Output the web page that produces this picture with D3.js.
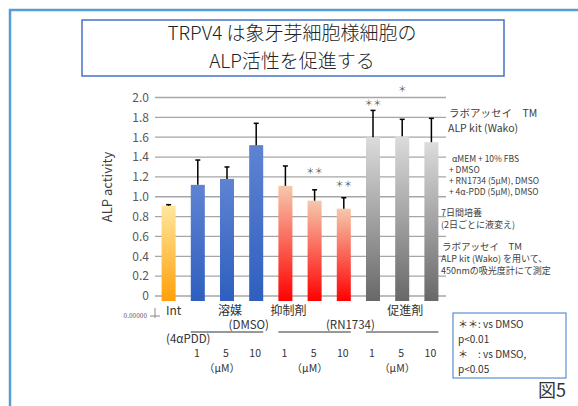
<!DOCTYPE html>
<html><head><meta charset="utf-8">
<script src="https://cdn.jsdelivr.net/npm/d3@7"></script>
<style>body{margin:0;background:#fff}svg{display:block;font-family:"Noto Sans CJK JP","Noto Sans",sans-serif}</style>
</head><body><svg id="c" width="578" height="406"></svg>
<script>
// ---- data ----
const barNames = ["Int","PDD1","PDD5","PDD10","RN1","RN5","RN10","P1","P5","P10"];
const barValues = [0.91, 1.12, 1.18, 1.52, 1.11, 0.96, 0.88, 1.60, 1.61, 1.55];
const barErrors = [0.01, 0.25, 0.12, 0.22, 0.20, 0.11, 0.11, 0.27, 0.17, 0.24];
const barGroup = ["int","dmso","dmso","dmso","rn","rn","rn","pro","pro","pro"];
const starText = ["","","","","","＊＊","＊＊","＊＊","＊",""];
const starLevel = [null,null,null,null,null,1.26,1.13,1.945,2.095,null];
const yTicks = [0,0.2,0.4,0.6,0.8,1.0,1.2,1.4,1.6,1.8,2.0];
const yTickLabels = ["0","0.2","0.4","0.6","0.8","1.0","1.2","1.4","1.6","1.8","2.0"];
const titleLines = ["TRPV4 は象牙芽細胞様細胞の","ALP活性を促進する"];
const categoryLabels = ["Int","溶媒","抑制剤","促進剤"];
const groupLabels = ["(DMSO)","(RN1734)"];
const doseLabels = ["1","5","10"];
const unitLabel = "（μM）";
const pddLabel = "(4αPDD)";
const noteLines = ["ラボアッセイ　TM","ALP kit (Wako)","αMEM + 10% FBS","+ DMSO","+ RN1734 (5μM), DMSO","+ 4α-PDD (5μM), DMSO","7日間培養","(2日ごとに液変え)","ラボアッセイ　TM","ALP kit (Wako) を用いて、","450nmの吸光度計にて測定"];
const legendLines = ["＊＊: vs DMSO","p<0.01","＊　: vs DMSO,","p<0.05"];

const svg = d3.select("#c");
svg.append("rect").attr("width",578).attr("height",406).attr("fill","#fff");

// gradients
const defs = svg.append("defs");
const grads = {int:["#FFE79E","#FFA00A"], dmso:["#5F83D2","#2E5FBF"], rn:["#F6C8AC","#FF0000"], pro:["#DCDCDC","#686868"]};
Object.entries(grads).forEach(([k,c])=>{
  const g = defs.append("linearGradient").attr("id","g-"+k).attr("x1",0).attr("y1",0).attr("x2",0).attr("y2",1);
  g.append("stop").attr("offset","0%").attr("stop-color",c[0]);
  g.append("stop").attr("offset","100%").attr("stop-color",c[1]);
});

// frame
svg.append("path").attr("d","M10,406V10H578").attr("fill","none").attr("stroke","#5B9BD5").attr("stroke-width",2.5);
// title box
svg.append("rect").attr("x",82).attr("y",20).attr("width",422).attr("height",56).attr("fill","none").attr("stroke","#4472C4").attr("stroke-width",1.5);
svg.selectAll("text.title").data(titleLines).join("text").attr("class","title")
  .attr("x",292).attr("y",(d,i)=>40+i*28).attr("text-anchor","middle")
  .attr("font-size",19).attr("font-weight",300).attr("fill","#222").text(d=>d);

// scales
const x = d3.scaleBand().domain(barNames).range([154,446]).paddingInner(0.52).paddingOuter(0.26);
const y = d3.scaleLinear().domain([0,2]).range([296,97.5]);
const baseOffset = 5;

// gridlines
svg.append("g").selectAll("line").data(yTicks).join("line")
  .attr("x1",155).attr("x2",446).attr("y1",d=>y(d)).attr("y2",d=>y(d))
  .attr("stroke","#A6A6A6").attr("stroke-width",1.3);

// y axis labels
const yAxis = d3.axisLeft(y).tickValues(yTicks).tickFormat((d,i)=>yTickLabels[i]).tickSize(0).tickPadding(0);
const ya = svg.append("g").attr("transform","translate(149,0)").call(yAxis);
ya.select(".domain").remove();
ya.selectAll("text").attr("font-size",12).attr("fill","#595959").attr("font-family","'Noto Sans CJK JP',sans-serif");

svg.append("text").attr("transform","translate(112,187) rotate(-90)").attr("text-anchor","middle")
  .attr("font-size",13).attr("fill","#404040").text("ALP activity");

// bars
svg.append("g").selectAll("rect").data(barNames).join("rect")
  .attr("x",d=>x(d)).attr("width",x.bandwidth())
  .attr("y",(d,i)=>y(barValues[i])).attr("height",(d,i)=>y(0)+baseOffset-y(barValues[i]))
  .attr("fill",(d,i)=>"url(#g-"+barGroup[i]+")");

// error bars
const eb = svg.append("g").attr("stroke","#000").attr("stroke-width",1.5);
barNames.forEach((d,i)=>{
  const cx = x(d)+x.bandwidth()/2;
  eb.append("line").attr("x1",cx).attr("x2",cx).attr("y1",y(barValues[i])).attr("y2",y(barValues[i]+barErrors[i]));
  eb.append("line").attr("x1",cx-2.5).attr("x2",cx+2.5).attr("y1",y(barValues[i]+barErrors[i])).attr("y2",y(barValues[i]+barErrors[i]));
});

// stars
svg.append("g").selectAll("text").data(barNames.filter((d,i)=>starText[i])).join("text")
  .attr("x",d=>x(d)+x.bandwidth()/2)
  .attr("y",d=>y(starLevel[barNames.indexOf(d)])+3.5)
  .attr("text-anchor","middle").attr("font-size",8.5).attr("fill","#555")
  .text(d=>starText[barNames.indexOf(d)]);

// bottom stub
svg.append("text").attr("x",147).attr("y",318).attr("text-anchor","end").attr("font-size",6.5).attr("fill","#555").text("0.00000");
svg.append("path").attr("d","M155,308V318M150,316H160").attr("stroke","#888").attr("stroke-width",1).attr("fill","none");

// category labels
const cx = i => x(barNames[i])+x.bandwidth()/2;
const catPos = [cx(0)+5, cx(2)+3, cx(4)+3, cx(8)+3];
svg.selectAll("text.cat").data(categoryLabels).join("text").attr("class","cat")
  .attr("x",(d,i)=>catPos[i]).attr("y",315).attr("text-anchor","middle")
  .attr("font-size",12).attr("fill","#333").text(d=>d);

// group labels & lines
const grpPos = [(cx(3)+cx(4))/2 - 22, (cx(6)+cx(7))/2 - 8];
svg.selectAll("text.grp").data(groupLabels).join("text").attr("class","grp")
  .attr("x",(d,i)=>grpPos[i]).attr("y",329).attr("text-anchor","middle")
  .attr("font-size",11.5).attr("fill","#333").text(d=>d);
[[1,3],[4,6],[7,9]].forEach(([a,b])=>{
  svg.append("line").attr("x1",cx(a)-7).attr("x2",cx(b)+7).attr("y1",332).attr("y2",332).attr("stroke","#333").attr("stroke-width",1.2);
});
svg.append("text").attr("x",166).attr("y",343).attr("font-size",11.5).attr("fill","#333").text(pddLabel);

// doses
[[1,2,3],[4,5,6],[7,8,9]].forEach(g=>{
  g.forEach((bi,j)=>{
    svg.append("text").attr("x",cx(bi)-1).attr("y",357).attr("text-anchor","middle").attr("font-size",10.5).attr("fill","#333").text(doseLabels[j]);
  });
  svg.append("text").attr("x",cx(g[1])-5).attr("y",372).attr("text-anchor","middle").attr("font-size",10.5).attr("fill","#333").text(unitLabel);
});

// right notes
const noteY = [113,128,158,169,180,191,212,224,246,258,270];
const noteX = [449,448,452,449,449,449,441,441,442,441,441];
const noteFs = [10.5,10.5,8.5,8.5,8.5,8.5,9,9,9.5,9,9];
svg.selectAll("text.note").data(noteLines).join("text").attr("class","note")
  .attr("x",(d,i)=>noteX[i]).attr("y",(d,i)=>noteY[i]+4)
  .attr("font-size",(d,i)=>noteFs[i]).attr("fill","#404040").text(d=>d);

// legend box
svg.append("rect").attr("x",453).attr("y",313).attr("width",113).attr("height",65).attr("fill","#fff").attr("stroke","#5B8FD0").attr("stroke-width",1.2);
svg.selectAll("text.leg").data(legendLines).join("text").attr("class","leg")
  .attr("x",458).attr("y",(d,i)=>328+i*15).attr("font-size",10).attr("fill","#333").text(d=>d);

svg.append("text").attr("x",538).attr("y",397).attr("font-size",18).attr("fill","#333").text("図5");
</script></body></html>
